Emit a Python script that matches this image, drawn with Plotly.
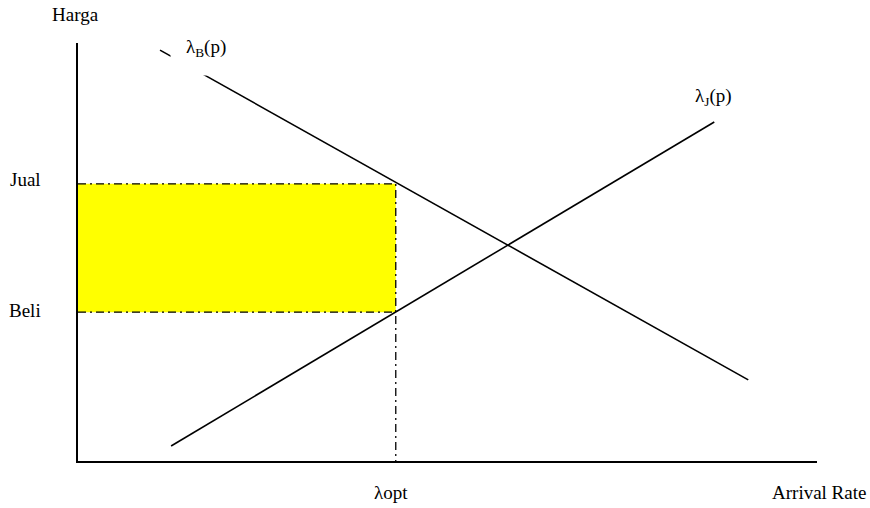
import plotly.graph_objects as go

# schematic values (arbitrary units, both axes 0..10)
harga_jual = 6.63
harga_beli = 3.56
lambda_opt = 4.3
x_max = 10
y_max = 10

# end points of the two rate curves
lambda_b_x = [1.11, 9.07]
lambda_b_y = [9.83, 1.94]
lambda_j_x = [1.26, 8.61]
lambda_j_y = [0.36, 8.11]

dashdot = "8px,4px,2px,4px"
serif = "Liberation Serif, Times New Roman, serif"

fig = go.Figure()

# yellow profit area
fig.add_trace(go.Scatter(
    x=[0, lambda_opt, lambda_opt, 0, 0],
    y=[harga_beli, harga_beli, harga_jual, harga_jual, harga_beli],
    fill="toself", fillcolor="#FFFF00",
    mode="lines", line=dict(width=0),
    hoverinfo="skip"
))

# dash-dot guide lines
fig.add_trace(go.Scatter(
    x=[0, lambda_opt, lambda_opt], y=[harga_jual, harga_jual, 0],
    mode="lines", line=dict(color="black", width=1.3, dash=dashdot)
))
fig.add_trace(go.Scatter(
    x=[0, lambda_opt], y=[harga_beli, harga_beli],
    mode="lines", line=dict(color="black", width=1.3, dash=dashdot)
))

# curves
fig.add_trace(go.Scatter(
    x=lambda_b_x, y=lambda_b_y,
    mode="lines", line=dict(color="black", width=1.6)
))
fig.add_trace(go.Scatter(
    x=lambda_j_x, y=lambda_j_y,
    mode="lines", line=dict(color="black", width=1.6)
))

txt = dict(family=serif, size=19, color="black")

# labels outside the axis range go on paper coordinates
annotations = [
    dict(text="Harga", xref="paper", yref="paper", x=-0.004, y=1.067,
         xanchor="center", yanchor="middle"),
    dict(text="Jual", xref="paper", yref="y", x=-0.047, y=harga_jual, yshift=4,
         xanchor="right", yanchor="middle"),
    dict(text="Beli", xref="paper", yref="y", x=-0.047, y=harga_beli, yshift=2,
         xanchor="right", yanchor="middle"),
    dict(text="λopt", xref="x", yref="paper", x=lambda_opt, y=0, xshift=-5, yshift=-31,
         xanchor="center", yanchor="middle"),
    dict(text="Arrival Rate", xref="paper", yref="paper", x=1, y=0, xshift=2, yshift=-31,
         xanchor="center", yanchor="middle"),
    dict(text="λ<sub>J</sub>(p)", xref="x", yref="y", x=8.6, y=8.71,
         xanchor="center", yanchor="middle"),
    dict(text="λ<sub>B</sub>(p)", xref="x", yref="y", x=1.73, y=9.88,
         xanchor="center", yanchor="middle", bgcolor="white", borderpad=15),
]
for a in annotations:
    a.update(showarrow=False, font=txt)

fig.update_layout(
    width=870, height=508,
    margin=dict(l=78, r=53, t=43, b=47),
    paper_bgcolor="white", plot_bgcolor="white",
    showlegend=False,
    annotations=annotations,
    xaxis=dict(range=[0, x_max], showgrid=False, zeroline=False, showticklabels=False,
               ticks="", showline=True, linecolor="black", linewidth=2, fixedrange=True),
    yaxis=dict(range=[0, y_max], showgrid=False, zeroline=False, showticklabels=False,
               ticks="", showline=True, linecolor="black", linewidth=2, fixedrange=True),
)

fig.write_html("out.html", config={"displayModeBar": False},
               post_script="document.body.style.margin='0';")
